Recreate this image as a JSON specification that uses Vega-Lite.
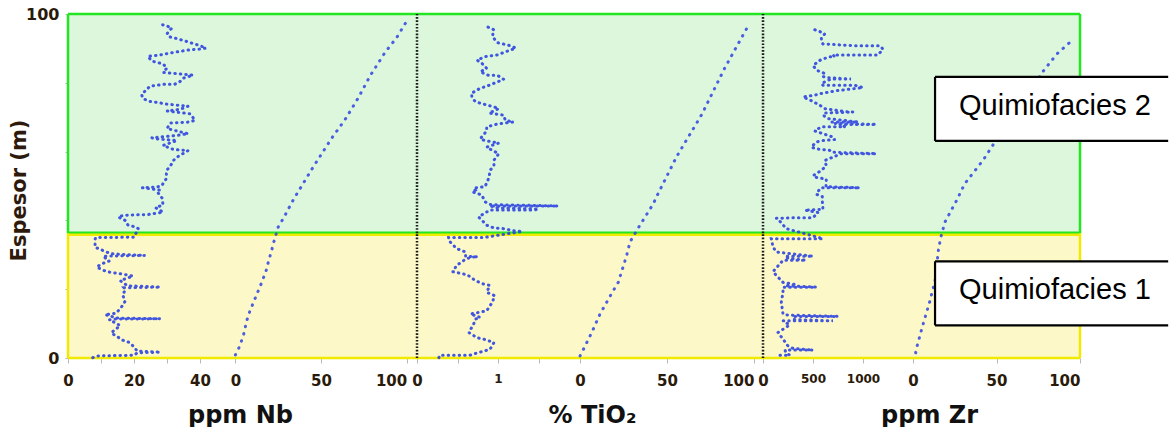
{
"$schema":"https://vega.github.io/schema/vega-lite/v6.json",
"autosize":{"type":"pad"},
"padding":{"left":8,"top":6,"right":0,"bottom":0},
"background":"white",
"spacing":0,
"bounds":"flush",
"config":{
 "view":{"stroke":null},
 "axis":{"domain":false,"grid":false,"tickColor":"#b8b8b8","tickSize":5,"labelFont":"DejaVu Sans","labelFontWeight":"bold","labelFontSize":15,"labelColor":"#2a1a0a","labelPadding":10,"labelFlush":false,"labelOverlap":false,"titleFont":"DejaVu Sans","titleFontWeight":"bold","titleFontSize":24,"titleColor":"#111111"}
},
"datasets":{
 "bands":[{"band":"Q1","lo":0,"hi":36.3},{"band":"Q2","lo":36.3,"hi":100}],
 "hlines":[{"e":100,"band":"Q2"},{"e":36.4,"band":"Q2"},{"e":35.8,"band":"Q1"},{"e":0,"band":"Q1"}],
 "boxes":[{"label":"Quimiofacies 2","lo":63.1,"hi":81.7,"x0":13.2,"x1":152.8},{"label":"Quimiofacies 1","lo":9.5,"hi":28.1,"x0":13.2,"x1":152.8}],
 "nb":[{"e":0.1,"v":7.5},{"e":0.6,"v":9},{"e":0.8,"v":20},{"e":1.5,"v":21},{"e":1.7,"v":28},{"e":2.0,"v":21},{"e":3.5,"v":19.7},{"e":4.5,"v":18.7},{"e":5.2,"v":16.5},{"e":5.9,"v":15.4},{"e":7.3,"v":13.1},{"e":8.4,"v":14.5},{"e":9.4,"v":15.8},{"e":10.4,"v":14},{"e":11.1,"v":12.5},{"e":11.3,"v":14},{"e":11.4,"v":28},{"e":11.6,"v":15},{"e":12.6,"v":11.2},{"e":13,"v":14.5},{"e":14.5,"v":16},{"e":16.5,"v":17.3},{"e":18.5,"v":16.5},{"e":19.8,"v":17.5},{"e":20.4,"v":17},{"e":20.6,"v":28},{"e":21,"v":18},{"e":22.5,"v":15.8},{"e":23.8,"v":19.7},{"e":24.4,"v":16.5},{"e":25.1,"v":11.7},{"e":26.4,"v":8.7},{"e":27.3,"v":10},{"e":28.2,"v":12.5},{"e":29.6,"v":10.6},{"e":29.8,"v":23.3},{"e":30.3,"v":13},{"e":32.2,"v":8.2},{"e":34.5,"v":8.2},{"e":35,"v":8.4},{"e":35.1,"v":20},{"e":37.6,"v":21.3},{"e":38.1,"v":20.5},{"e":38.6,"v":18.2},{"e":40,"v":17.3},{"e":41,"v":15.2},{"e":41.5,"v":17},{"e":41.7,"v":24.2},{"e":42.4,"v":28.8},{"e":43.7,"v":26.5},{"e":44.5,"v":28.8},{"e":46.5,"v":28.5},{"e":48,"v":27.3},{"e":48.8,"v":28},{"e":49.5,"v":22.5},{"e":49.7,"v":27},{"e":50.1,"v":28.4},{"e":52,"v":29.7},{"e":54.5,"v":29.9},{"e":56.4,"v":31.4},{"e":57.4,"v":31.9},{"e":58.6,"v":33.4},{"e":60.3,"v":36.4},{"e":60.6,"v":32},{"e":61.8,"v":28.8},{"e":63.2,"v":33},{"e":63.7,"v":27},{"e":64,"v":25.4},{"e":64.7,"v":33},{"e":65.2,"v":36.4},{"e":66.7,"v":30},{"e":68.3,"v":31},{"e":68.6,"v":36.9},{"e":69.1,"v":38.5},{"e":71,"v":37},{"e":71.8,"v":30},{"e":72.3,"v":34},{"e":73.2,"v":36.4},{"e":73.8,"v":30},{"e":74.3,"v":27},{"e":74.6,"v":24.8},{"e":75.4,"v":22.7},{"e":76.6,"v":22.3},{"e":78.4,"v":24.2},{"e":79,"v":24.8},{"e":79.6,"v":29.4},{"e":79.6,"v":32.4},{"e":80.4,"v":34},{"e":81.3,"v":34.8},{"e":82.2,"v":37.9},{"e":82.4,"v":36},{"e":83,"v":28.8},{"e":84.3,"v":30},{"e":85.5,"v":28.8},{"e":86.3,"v":25.4},{"e":87.7,"v":24.2},{"e":88,"v":27.3},{"e":88.9,"v":32.4},{"e":89.6,"v":37},{"e":89.8,"v":40},{"e":90.1,"v":41.8},{"e":90.8,"v":40},{"e":91.5,"v":37.6},{"e":92,"v":36},{"e":93,"v":32.4},{"e":93.3,"v":31},{"e":94.2,"v":30},{"e":95,"v":30.5},{"e":95.9,"v":31.5},{"e":96.5,"v":30},{"e":96.9,"v":28.5}],
 "nbcum":[{"e":0.9,"c":0},{"e":2.5,"c":1.7},{"e":6.4,"c":4.6},{"e":10.8,"c":6.6},{"e":13.7,"c":8.5},{"e":17.2,"c":11.4},{"e":19.6,"c":13.4},{"e":22,"c":15.4},{"e":25.9,"c":18.3},{"e":27.9,"c":19.2},{"e":31.3,"c":21.2},{"e":33.2,"c":22.1},{"e":38.1,"c":25},{"e":40.6,"c":28},{"e":46,"c":33.8},{"e":55.6,"c":45.5},{"e":63.9,"c":56.2},{"e":69.3,"c":64},{"e":75.6,"c":71.7},{"e":82,"c":78.6},{"e":88.8,"c":87.3},{"e":93.2,"c":94.2},{"e":97.6,"c":99.6}],
 "ti":[{"e":0.1,"v":0.27},{"e":0.8,"v":0.28},{"e":0.8,"v":0.65},{"e":1.5,"v":0.75},{"e":2.5,"v":0.9},{"e":4.5,"v":0.95},{"e":5.5,"v":0.82},{"e":5.9,"v":0.74},{"e":7.4,"v":0.64},{"e":9.9,"v":0.7},{"e":11.3,"v":0.72},{"e":11.8,"v":0.78},{"e":12.8,"v":0.66},{"e":13.7,"v":0.86},{"e":16.2,"v":0.93},{"e":18.1,"v":0.96},{"e":19.1,"v":0.86},{"e":21.1,"v":0.9},{"e":21.5,"v":0.82},{"e":22.5,"v":0.72},{"e":24.2,"v":0.62},{"e":25.1,"v":0.44},{"e":26.9,"v":0.49},{"e":28.4,"v":0.58},{"e":29.3,"v":0.66},{"e":29.4,"v":0.75},{"e":29.6,"v":0.6},{"e":30.8,"v":0.6},{"e":31.8,"v":0.49},{"e":34.2,"v":0.39},{"e":35,"v":0.39},{"e":35,"v":0.82},{"e":36.8,"v":1.3},{"e":37,"v":1.19},{"e":37.6,"v":1.07},{"e":37.8,"v":0.95},{"e":38.6,"v":0.86},{"e":39.6,"v":0.82},{"e":41,"v":0.76},{"e":42.3,"v":0.85},{"e":43,"v":0.9},{"e":43,"v":1.45},{"e":43.3,"v":1.5},{"e":43.6,"v":1.0},{"e":44.2,"v":0.9},{"e":44.2,"v":1.74},{"e":44.6,"v":0.9},{"e":45.4,"v":0.84},{"e":47.4,"v":0.8},{"e":48.3,"v":0.68},{"e":48.8,"v":0.72},{"e":49.4,"v":0.7},{"e":49.8,"v":0.84},{"e":52.5,"v":0.89},{"e":54.5,"v":0.9},{"e":55.9,"v":0.95},{"e":57.5,"v":0.95},{"e":59.4,"v":1.01},{"e":60.1,"v":0.95},{"e":61.3,"v":0.86},{"e":62.5,"v":1.01},{"e":63.2,"v":0.84},{"e":63.7,"v":0.78},{"e":66,"v":0.86},{"e":67.2,"v":0.86},{"e":68.1,"v":1.01},{"e":68.6,"v":1.19},{"e":69.1,"v":1.09},{"e":70.6,"v":1.07},{"e":71.2,"v":0.89},{"e":72.5,"v":1.01},{"e":73,"v":0.95},{"e":73.8,"v":0.82},{"e":74.5,"v":0.72},{"e":75.7,"v":0.68},{"e":76.9,"v":0.67},{"e":78.4,"v":0.78},{"e":79,"v":0.86},{"e":81,"v":1.07},{"e":82.2,"v":0.99},{"e":82.2,"v":0.88},{"e":83.2,"v":0.78},{"e":84.2,"v":0.86},{"e":85.7,"v":0.8},{"e":86.6,"v":0.74},{"e":87.6,"v":0.84},{"e":88.1,"v":0.99},{"e":88.8,"v":1.07},{"e":90.1,"v":1.22},{"e":90.8,"v":1.15},{"e":91.7,"v":0.99},{"e":93.5,"v":0.93},{"e":95.4,"v":0.95},{"e":96.6,"v":0.84}],
 "ticum":[{"e":0.6,"c":0},{"e":3.5,"c":2.9},{"e":7.4,"c":6.7},{"e":12.8,"c":11.5},{"e":16.2,"c":15.3},{"e":19.6,"c":19.1},{"e":22,"c":22},{"e":29.8,"c":26.8},{"e":33.7,"c":28.7},{"e":37.1,"c":32.6},{"e":41,"c":37.4},{"e":44.9,"c":42.2},{"e":46.9,"c":44},{"e":58.6,"c":55.6},{"e":70.8,"c":70},{"e":84.4,"c":83.3},{"e":96.6,"c":96.7}],
 "zr":[{"e":0.8,"v":170},{"e":0.8,"v":270},{"e":1.5,"v":230},{"e":2.3,"v":220},{"e":2.3,"v":500},{"e":2.8,"v":300},{"e":3.5,"v":250},{"e":5.5,"v":200},{"e":7.4,"v":150},{"e":9.6,"v":267},{"e":10.8,"v":200},{"e":10.8,"v":700},{"e":11.2,"v":300},{"e":12.1,"v":320},{"e":12.1,"v":750},{"e":12.5,"v":230},{"e":12.8,"v":200},{"e":16.2,"v":183},{"e":19.1,"v":200},{"e":20.6,"v":200},{"e":20.6,"v":533},{"e":21,"v":220},{"e":21.3,"v":333},{"e":22,"v":200},{"e":24,"v":133},{"e":25.1,"v":100},{"e":28.4,"v":200},{"e":28.4,"v":430},{"e":29,"v":250},{"e":29.6,"v":220},{"e":29.6,"v":500},{"e":30.8,"v":133},{"e":32.3,"v":100},{"e":34.7,"v":83},{"e":34.7,"v":600},{"e":37.6,"v":233},{"e":39.8,"v":167},{"e":40.6,"v":133},{"e":40.8,"v":333},{"e":40.8,"v":500},{"e":42.3,"v":550},{"e":43,"v":417},{"e":43.2,"v":600},{"e":45.6,"v":593},{"e":46.9,"v":593},{"e":47.6,"v":533},{"e":49.1,"v":567},{"e":49.5,"v":583},{"e":49.5,"v":967},{"e":49.8,"v":630},{"e":52,"v":633},{"e":52.5,"v":533},{"e":53,"v":500},{"e":54.5,"v":583},{"e":55.9,"v":633},{"e":57.4,"v":617},{"e":59.4,"v":783},{"e":59.4,"v":1133},{"e":59.8,"v":700},{"e":60.3,"v":683},{"e":60.8,"v":533},{"e":61.3,"v":483},{"e":62.8,"v":533},{"e":63.2,"v":600},{"e":63.5,"v":717},{"e":64.2,"v":700},{"e":65.2,"v":600},{"e":66,"v":517},{"e":67.2,"v":583},{"e":67.2,"v":820},{"e":67.9,"v":767},{"e":67.9,"v":1133},{"e":68.2,"v":700},{"e":68.6,"v":683},{"e":68.6,"v":950},{"e":69.6,"v":650},{"e":70.6,"v":600},{"e":71.2,"v":617},{"e":71.5,"v":900},{"e":71.6,"v":830},{"e":72.5,"v":617},{"e":73.5,"v":567},{"e":74.8,"v":483},{"e":75.9,"v":400},{"e":76.4,"v":517},{"e":76.9,"v":583},{"e":77.7,"v":733},{"e":78.6,"v":1000},{"e":79.3,"v":917},{"e":79.3,"v":600},{"e":79.8,"v":583},{"e":81.1,"v":680},{"e":81.1,"v":880},{"e":81.5,"v":650},{"e":81.8,"v":600},{"e":82.7,"v":617},{"e":83.5,"v":550},{"e":84.9,"v":500},{"e":86.2,"v":550},{"e":86.7,"v":580},{"e":87.6,"v":667},{"e":87.6,"v":717},{"e":88.1,"v":700},{"e":88.1,"v":1150},{"e":89.8,"v":1200},{"e":90.8,"v":1167},{"e":90.8,"v":900},{"e":91.3,"v":600},{"e":91.5,"v":593},{"e":93,"v":583},{"e":94.2,"v":617},{"e":94.9,"v":567},{"e":95.6,"v":500}],
 "zrcum":[{"e":1.5,"c":1.6},{"e":3,"c":2.2},{"e":8.4,"c":5.2},{"e":16.7,"c":10.2},{"e":22.5,"c":13.2},{"e":31.3,"c":15.2},{"e":35,"c":16.6},{"e":39.6,"c":19.2},{"e":45.9,"c":26.2},{"e":49.8,"c":30.1},{"e":51.3,"c":32},{"e":57.6,"c":42.1},{"e":63.5,"c":50},{"e":72,"c":63},{"e":83.4,"c":78},{"e":88.3,"c":86},{"e":92.2,"c":95}]
},
"hconcat":[
 {"width":165,"height":344,
  "layer":[
   {"data":{"name":"bands"},"mark":{"type":"rect"},
    "encoding":{
     "y":{"field":"lo","type":"quantitative","scale":{"domain":[0,100],"nice":false,"zero":false},
      "axis":{"values":[0,5,10,15,20,25,30,35,40,45,50,55,60,65,70,75,80,85,90,95,100],"labelExpr":"datum.value % 50 === 0 ? datum.label : ''","tickSize":3,"labelPadding":6,"labelFontSize":16,"title":"Espesor (m)","titleFontSize":21,"titleColor":"#2e1a0c","titleAngle":270,"titleX":-49,"titleY":176,"titleAlign":"center","titleBaseline":"middle"}},
     "y2":{"field":"hi"},
     "fill":{"field":"band","type":"nominal","scale":{"domain":["Q1","Q2"],"range":["#fcf8c8","#ddf7dd"]},"legend":null}}},
   {"data":{"name":"hlines"},"mark":{"type":"rule","strokeWidth":2.5},
    "encoding":{"y":{"field":"e","type":"quantitative"},"stroke":{"field":"band","type":"nominal","scale":{"domain":["Q1","Q2"],"range":["#f0ea00","#22e622"]},"legend":null}}},
   {"data":{"name":"bands"},"mark":{"type":"rule","strokeWidth":2.5},
    "encoding":{"x":{"datum":0,"type":"quantitative"},"y":{"field":"lo","type":"quantitative"},"y2":{"field":"hi"},"stroke":{"field":"band","type":"nominal","legend":null}}},
   {"data":{"name":"nb"},"mark":{"type":"line","color":"#2f44e0","strokeWidth":3,"strokeDash":[0.5,5],"strokeCap":"round","opacity":0.9},
    "encoding":{
     "x":{"field":"v","type":"quantitative","scale":{"domain":[0,50],"nice":false,"zero":false},
      "axis":{"values":[0,10,20,30,40],"labelExpr":"datum.value % 20 === 0 ? datum.label : ''","title":"ppm Nb","titleX":172,"titleY":64,"titleAlign":"center","titleBaseline":"alphabetic"}},
     "y":{"field":"e","type":"quantitative"},
     "order":{"value":null}}}
  ]},
 {"width":184,"height":344,
  "layer":[
   {"data":{"name":"bands"},"mark":{"type":"rect"},
    "encoding":{"y":{"field":"lo","type":"quantitative","scale":{"domain":[0,100],"nice":false,"zero":false},"axis":null},"y2":{"field":"hi"},
     "fill":{"field":"band","type":"nominal","scale":{"domain":["Q1","Q2"],"range":["#fcf8c8","#ddf7dd"]},"legend":null}}},
   {"data":{"name":"hlines"},"mark":{"type":"rule","strokeWidth":2.5},
    "encoding":{"y":{"field":"e","type":"quantitative","axis":null},"stroke":{"field":"band","type":"nominal","scale":{"domain":["Q1","Q2"],"range":["#f0ea00","#22e622"]},"legend":null}}},
   {"data":{"name":"nbcum"},"mark":{"type":"line","color":"#2f44e0","strokeWidth":3,"strokeDash":[0.5,7],"strokeCap":"round","opacity":0.85},
    "encoding":{
     "x":{"field":"c","type":"quantitative","scale":{"domain":[-1.4,106],"nice":false,"zero":false},"axis":{"values":[0,50,100],"title":null,"labelAlign":{"condition":{"test":"datum.value === 100","value":"right"},"value":"center"}}},
     "y":{"field":"e","type":"quantitative","axis":null},
     "order":{"value":null}}}
  ]},
 {"width":162,"height":344,
  "layer":[
   {"data":{"name":"bands"},"mark":{"type":"rect"},
    "encoding":{"y":{"field":"lo","type":"quantitative","scale":{"domain":[0,100],"nice":false,"zero":false},"axis":null},"y2":{"field":"hi"},
     "fill":{"field":"band","type":"nominal","scale":{"domain":["Q1","Q2"],"range":["#fcf8c8","#ddf7dd"]},"legend":null}}},
   {"data":{"name":"hlines"},"mark":{"type":"rule","strokeWidth":2.5},
    "encoding":{"y":{"field":"e","type":"quantitative","axis":null},"stroke":{"field":"band","type":"nominal","scale":{"domain":["Q1","Q2"],"range":["#f0ea00","#22e622"]},"legend":null}}},
   {"data":{"name":"ti"},"mark":{"type":"line","color":"#2f44e0","strokeWidth":3,"strokeDash":[0.5,5],"strokeCap":"round","opacity":0.9},
    "encoding":{
     "x":{"field":"v","type":"quantitative","scale":{"domain":[0,2],"nice":false,"zero":false},
      "axis":{"values":[0,0.5,1,1.5],"labelExpr":"datum.value === 1 ? '1' : (datum.value === 0 ? '0' : '')","labelFontSize":{"condition":{"test":"datum.value === 0","value":15},"value":12},"title":"% TiO₂","titleX":175,"titleY":64,"titleAlign":"center","titleBaseline":"alphabetic"}},
     "y":{"field":"e","type":"quantitative","axis":null},
     "order":{"value":null}}},
   {"data":{"name":"bands"},"mark":{"type":"rule","strokeWidth":2.5,"color":"#1a1a1a","strokeDash":[1.6,1.7]},
    "encoding":{"x":{"datum":0,"type":"quantitative"},"y":{"field":"lo","type":"quantitative","axis":null},"y2":{"field":"hi"}}}
  ]},
 {"width":184,"height":344,
  "layer":[
   {"data":{"name":"bands"},"mark":{"type":"rect"},
    "encoding":{"y":{"field":"lo","type":"quantitative","scale":{"domain":[0,100],"nice":false,"zero":false},"axis":null},"y2":{"field":"hi"},
     "fill":{"field":"band","type":"nominal","scale":{"domain":["Q1","Q2"],"range":["#fcf8c8","#ddf7dd"]},"legend":null}}},
   {"data":{"name":"hlines"},"mark":{"type":"rule","strokeWidth":2.5},
    "encoding":{"y":{"field":"e","type":"quantitative","axis":null},"stroke":{"field":"band","type":"nominal","scale":{"domain":["Q1","Q2"],"range":["#f0ea00","#22e622"]},"legend":null}}},
   {"data":{"name":"ticum"},"mark":{"type":"line","color":"#2f44e0","strokeWidth":3,"strokeDash":[0.5,7],"strokeCap":"round","opacity":0.85},
    "encoding":{
     "x":{"field":"c","type":"quantitative","scale":{"domain":[-0.6,105.2],"nice":false,"zero":false},"axis":{"values":[0,50,100],"title":null,"labelAlign":{"condition":{"test":"datum.value === 100","value":"right"},"value":"center"}}},
     "y":{"field":"e","type":"quantitative","axis":null},
     "order":{"value":null}}}
  ]},
 {"width":150,"height":344,
  "layer":[
   {"data":{"name":"bands"},"mark":{"type":"rect"},
    "encoding":{"y":{"field":"lo","type":"quantitative","scale":{"domain":[0,100],"nice":false,"zero":false},"axis":null},"y2":{"field":"hi"},
     "fill":{"field":"band","type":"nominal","scale":{"domain":["Q1","Q2"],"range":["#fcf8c8","#ddf7dd"]},"legend":null}}},
   {"data":{"name":"hlines"},"mark":{"type":"rule","strokeWidth":2.5},
    "encoding":{"y":{"field":"e","type":"quantitative","axis":null},"stroke":{"field":"band","type":"nominal","scale":{"domain":["Q1","Q2"],"range":["#f0ea00","#22e622"]},"legend":null}}},
   {"data":{"name":"zr"},"mark":{"type":"line","color":"#2f44e0","strokeWidth":3,"strokeDash":[0.5,5],"strokeCap":"round","opacity":0.9},
    "encoding":{
     "x":{"field":"v","type":"quantitative","scale":{"domain":[0,1500],"nice":false,"zero":false},
      "axis":{"values":[0,250,500,750,1000,1250],"labelExpr":"datum.value === 0 ? '0' : (datum.value === 500 ? '500' : (datum.value === 1000 ? '1000' : ''))","labelFontSize":{"condition":{"test":"datum.value === 0","value":15},"value":12},"title":"ppm Zr","titleX":166,"titleY":64,"titleAlign":"center","titleBaseline":"alphabetic"}},
     "y":{"field":"e","type":"quantitative","axis":null},
     "order":{"value":null}}},
   {"data":{"name":"bands"},"mark":{"type":"rule","strokeWidth":2.5,"color":"#1a1a1a","strokeDash":[1.6,1.7]},
    "encoding":{"x":{"datum":0,"type":"quantitative"},"y":{"field":"lo","type":"quantitative","axis":null},"y2":{"field":"hi"}}}
  ]},
 {"width":167,"height":344,
  "layer":[
   {"data":{"name":"bands"},"mark":{"type":"rect"},
    "encoding":{"y":{"field":"lo","type":"quantitative","scale":{"domain":[0,100],"nice":false,"zero":false},"axis":null},"y2":{"field":"hi"},
     "fill":{"field":"band","type":"nominal","scale":{"domain":["Q1","Q2"],"range":["#fcf8c8","#ddf7dd"]},"legend":null}}},
   {"data":{"name":"hlines"},"mark":{"type":"rule","strokeWidth":2.5},
    "encoding":{"y":{"field":"e","type":"quantitative","axis":null},"stroke":{"field":"band","type":"nominal","scale":{"domain":["Q1","Q2"],"range":["#f0ea00","#22e622"]},"legend":null}}},
   {"data":{"name":"bands"},"mark":{"type":"rule","strokeWidth":2.5},
    "encoding":{"x":{"datum":100,"type":"quantitative"},"y":{"field":"lo","type":"quantitative","axis":null},"y2":{"field":"hi"},"stroke":{"field":"band","type":"nominal","legend":null}}},
   {"data":{"name":"zrcum"},"mark":{"type":"line","color":"#2f44e0","strokeWidth":3,"strokeDash":[0.5,7],"strokeCap":"round","opacity":0.85},
    "encoding":{
     "x":{"field":"c","type":"quantitative","scale":{"domain":[0,100],"nice":false,"zero":false},"axis":{"values":[0,50,100],"title":null,"labelAlign":{"condition":{"test":"datum.value === 100","value":"right"},"value":"center"}}},
     "y":{"field":"e","type":"quantitative","axis":null},
     "order":{"value":null}}},
   {"data":{"name":"boxes"},"mark":{"type":"rect","fill":"white"},
    "encoding":{"x":{"field":"x0","type":"quantitative"},"x2":{"field":"x1"},"y":{"field":"lo","type":"quantitative","axis":null},"y2":{"field":"hi"}}},
   {"data":{"name":"boxes"},"mark":{"type":"rule","color":"black","strokeWidth":2.2},
    "encoding":{"x":{"field":"x0","type":"quantitative"},"x2":{"field":"x1"},"y":{"field":"lo","type":"quantitative","axis":null}}},
   {"data":{"name":"boxes"},"mark":{"type":"rule","color":"black","strokeWidth":2.2},
    "encoding":{"x":{"field":"x0","type":"quantitative"},"x2":{"field":"x1"},"y":{"field":"hi","type":"quantitative","axis":null}}},
   {"data":{"name":"boxes"},"mark":{"type":"rule","color":"black","strokeWidth":2.2},
    "encoding":{"x":{"field":"x0","type":"quantitative"},"y":{"field":"lo","type":"quantitative","axis":null},"y2":{"field":"hi"}}},
   {"data":{"name":"boxes"},"mark":{"type":"text","font":"Liberation Sans","fontSize":29,"color":"black","align":"left","baseline":"alphabetic","dx":24,"dy":-26},
    "encoding":{"x":{"field":"x0","type":"quantitative"},"y":{"field":"lo","type":"quantitative","axis":null},"text":{"field":"label"}}}
  ]}
]
}
